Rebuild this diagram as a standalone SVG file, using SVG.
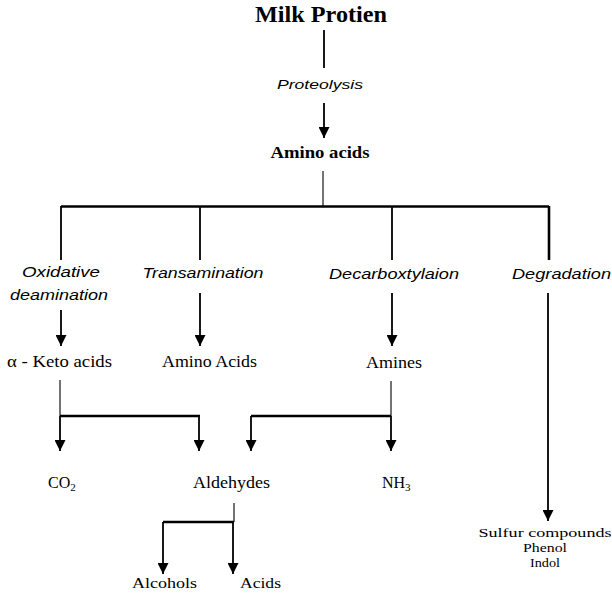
<svg xmlns="http://www.w3.org/2000/svg" width="612" height="595" viewBox="0 0 612 595">
  <style>
    .serif { font-family: "Liberation Serif", "Times New Roman", serif; fill: #000; }
    .bold { font-weight: bold; }
    .ital { font-family: "Liberation Sans", Arial, sans-serif; font-style: italic; fill: #000; }
    .ln { stroke: #000; stroke-width: 1.8; fill: none; }
    .thin { stroke: #000; stroke-width: 1.1; fill: none; }
    .bar { stroke: #000; stroke-width: 2.6; fill: none; }
    .arr { stroke: #000; stroke-width: 1.8; fill: none; marker-end: url(#head); }
  </style>
  <defs>
    <marker id="head" markerUnits="userSpaceOnUse" markerWidth="11" markerHeight="11" refX="10" refY="5" orient="auto" viewBox="0 0 10 10">
      <path d="M0,0 L10,5 L0,10 Z" fill="#000"/>
    </marker>
  </defs>

  <rect width="612" height="595" fill="#fff"/>

  <!-- connectors -->
  <g id="connectors">
    <line class="ln" x1="324" y1="30" x2="324" y2="68"/>
    <line class="arr" x1="324" y1="103" x2="324" y2="138"/>
    <line class="thin" x1="323" y1="171" x2="323" y2="206"/>
    <line class="bar" x1="61" y1="206.5" x2="549" y2="206.5"/>
    <line class="ln" x1="61" y1="206" x2="61" y2="260"/>
    <line class="ln" x1="200" y1="206" x2="200" y2="260"/>
    <line class="ln" x1="392" y1="206" x2="392" y2="260"/>
    <line class="bar" x1="549" y1="206" x2="549" y2="260"/>

    <line class="arr" x1="61" y1="310" x2="61" y2="346"/>
    <line class="arr" x1="200" y1="293" x2="200" y2="346"/>
    <line class="arr" x1="392" y1="293" x2="392" y2="346"/>
    <line class="arr" x1="548" y1="293" x2="548" y2="521"/>

    <!-- keto acids split -->
    <line class="thin" x1="60" y1="380" x2="60" y2="416"/>
    <line class="bar" x1="60" y1="416" x2="200" y2="416"/>
    <line class="arr" x1="60" y1="416" x2="60" y2="451"/>
    <line class="arr" x1="199" y1="416" x2="199" y2="451"/>

    <!-- amines split -->
    <line class="thin" x1="391" y1="381" x2="391" y2="416"/>
    <line class="bar" x1="251" y1="416" x2="391" y2="416"/>
    <line class="arr" x1="251" y1="416" x2="251" y2="451"/>
    <line class="arr" x1="391" y1="416" x2="391" y2="451"/>

    <!-- aldehydes split -->
    <line class="thin" x1="234" y1="503" x2="234" y2="522"/>
    <line class="bar" x1="163" y1="522" x2="234" y2="522"/>
    <line class="arr" x1="163" y1="522" x2="163" y2="574"/>
    <line class="arr" x1="233" y1="522" x2="233" y2="574"/>
  </g>

  <!-- nodes -->
  <g id="milk-protein">
    <text class="serif bold" x="321" y="22" font-size="24" text-anchor="middle" textLength="132" lengthAdjust="spacingAndGlyphs">Milk Protien</text>
  </g>
  <g id="proteolysis">
    <text class="ital" x="320" y="89" font-size="13.5" text-anchor="middle" textLength="86" lengthAdjust="spacingAndGlyphs">Proteolysis</text>
  </g>
  <g id="amino-acids">
    <text class="serif bold" x="320" y="158" font-size="17" text-anchor="middle" textLength="99" lengthAdjust="spacingAndGlyphs">Amino acids</text>
  </g>

  <g id="oxidative-deamination">
    <text class="ital" x="61" y="277" font-size="15" text-anchor="middle" textLength="78" lengthAdjust="spacingAndGlyphs">Oxidative</text>
    <text class="ital" x="59" y="300" font-size="15" text-anchor="middle" textLength="98" lengthAdjust="spacingAndGlyphs">deamination</text>
  </g>
  <g id="transamination">
    <text class="ital" x="203" y="278" font-size="15" text-anchor="middle" textLength="121" lengthAdjust="spacingAndGlyphs">Transamination</text>
  </g>
  <g id="decarboxylation">
    <text class="ital" x="394" y="279" font-size="15" text-anchor="middle" textLength="130" lengthAdjust="spacingAndGlyphs">Decarboxtylaion</text>
  </g>
  <g id="degradation">
    <text class="ital" x="512" y="279" font-size="15" textLength="99" lengthAdjust="spacingAndGlyphs">Degradation</text>
  </g>

  <g id="keto-acids">
    <text class="serif" x="7" y="367" font-size="16" textLength="105" lengthAdjust="spacingAndGlyphs">α - Keto acids</text>
  </g>
  <g id="amino-acids-2">
    <text class="serif" x="162" y="367" font-size="16" textLength="95" lengthAdjust="spacingAndGlyphs">Amino Acids</text>
  </g>
  <g id="amines">
    <text class="serif" x="366" y="368" font-size="16" textLength="56" lengthAdjust="spacingAndGlyphs">Amines</text>
  </g>

  <g id="co2">
    <text class="serif" x="48" y="488" font-size="16">CO<tspan font-size="11" dy="3">2</tspan></text>
  </g>
  <g id="aldehydes">
    <text class="serif" x="193" y="488" font-size="16" textLength="77" lengthAdjust="spacingAndGlyphs">Aldehydes</text>
  </g>
  <g id="nh3">
    <text class="serif" x="382" y="488" font-size="16">NH<tspan font-size="11" dy="3">3</tspan></text>
  </g>

  <g id="alcohols">
    <text class="serif" x="132" y="588" font-size="15" textLength="65" lengthAdjust="spacingAndGlyphs">Alcohols</text>
  </g>
  <g id="acids">
    <text class="serif" x="240" y="588" font-size="15" textLength="41" lengthAdjust="spacingAndGlyphs">Acids</text>
  </g>

  <g id="degradation-products">
    <text class="serif" x="545" y="537" font-size="13" text-anchor="middle" textLength="133" lengthAdjust="spacingAndGlyphs">Sulfur compounds</text>
    <text class="serif" x="545" y="552" font-size="13" text-anchor="middle" textLength="44" lengthAdjust="spacingAndGlyphs">Phenol</text>
    <text class="serif" x="545" y="567" font-size="13" text-anchor="middle" textLength="30" lengthAdjust="spacingAndGlyphs">Indol</text>
  </g>
</svg>
